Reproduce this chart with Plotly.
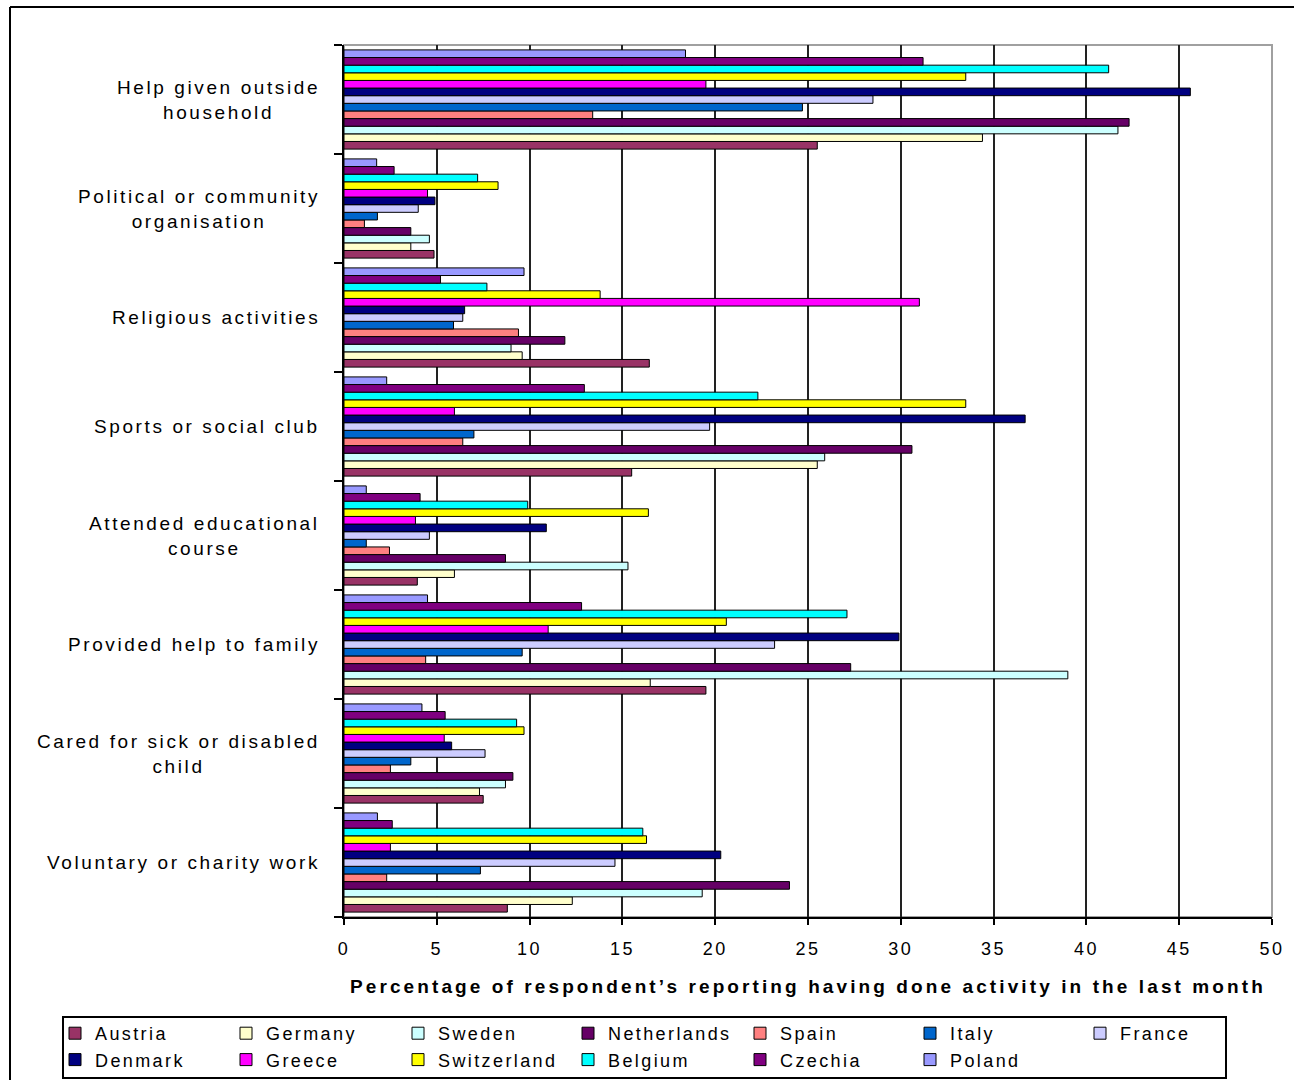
import plotly.graph_objects as go

# Activities, listed top to bottom as they appear on the chart
activities = [
    "Help given outside<br>household",
    "Political or community<br>organisation",
    "Religious activities",
    "Sports or social club",
    "Attended educational<br>course",
    "Provided help to family",
    "Cared for sick or disabled<br>child",
    "Voluntary or charity work",
]

countries = ["Austria", "Germany", "Sweden", "Netherlands", "Spain", "Italy", "France",
             "Denmark", "Greece", "Switzerland", "Belgium", "Czechia", "Poland"]

colors = ["#993366", "#FFFFCC", "#CCFFFF", "#660066", "#FF8080", "#0066CC", "#CCCCFF",
          "#000080", "#FF00FF", "#FFFF00", "#00FFFF", "#800080", "#9999FF"]

# Percentage of respondents per activity (same order as activities)
austria = [25.5, 4.85, 16.45, 15.5, 3.95, 19.5, 7.5, 8.8]
germany = [34.4, 3.6, 9.6, 25.5, 5.95, 16.5, 7.3, 12.3]
sweden = [41.7, 4.6, 9.0, 25.9, 15.3, 39.0, 8.7, 19.3]
netherlands = [42.3, 3.6, 11.9, 30.6, 8.7, 27.3, 9.1, 24.0]
spain = [13.4, 1.1, 9.4, 6.4, 2.45, 4.4, 2.5, 2.3]
italy = [24.7, 1.8, 5.9, 7.0, 1.2, 9.6, 3.6, 7.35]
france = [28.5, 4.0, 6.4, 19.7, 4.6, 23.2, 7.6, 14.6]
denmark = [45.6, 4.9, 6.5, 36.7, 10.9, 29.9, 5.8, 20.3]
greece = [19.5, 4.5, 31.0, 5.95, 3.85, 11.0, 5.4, 2.5]
switzerland = [33.5, 8.3, 13.8, 33.5, 16.4, 20.6, 9.7, 16.3]
belgium = [41.2, 7.2, 7.7, 22.3, 9.9, 27.1, 9.3, 16.1]
czechia = [31.2, 2.7, 5.2, 12.95, 4.1, 12.8, 5.45, 2.6]
poland = [18.4, 1.76, 9.7, 2.3, 1.2, 4.5, 4.2, 1.8]

series = [austria, germany, sweden, netherlands, spain, italy, france,
          denmark, greece, switzerland, belgium, czechia, poland]

x_ticks = [0, 5, 10, 15, 20, 25, 30, 35, 40, 45, 50]
x_title = "Percentage of respondent\u2019s reporting having done activity in the last month"

FONT = "Liberation Sans, Arial, sans-serif"
W, H = 1294, 1080
ML, MR, MT, MB = 344, 22, 45, 163
plot_w = W - ML - MR
plot_h = H - MT - MB

# Legend laid out as 7 columns x 2 rows
LEGEND_COLS = 7
legend_col_x = [55, 226, 398, 568, 740, 910, 1080]   # container pixels
legend_top = 1015


def spaced(text, px):
    return f'<span style="letter-spacing:{px}px">{text}</span>'


def legend_key(i):
    return "legend" if i == 0 else f"legend{i + 1}"


fig = go.Figure()
for j, (name, vals, col) in enumerate(zip(countries, series, colors)):
    fig.add_trace(go.Bar(
        y=activities, x=vals, name=spaced(name, 2.4), orientation="h",
        marker=dict(color=col, line=dict(color="black", width=1)),
        legend=legend_key(j % LEGEND_COLS), legendgroup=name,
    ))

# Category labels, centred per line, right edge just left of the axis
for label in activities:
    ls = 2.6
    styled = "<br>".join(spaced(part, ls) for part in label.split("<br>"))
    fig.add_annotation(
        x=-22 / plot_w, xref="paper", xanchor="right",
        y=label, yref="y", yanchor="middle",
        text=styled, showarrow=False, align="center",
        font=dict(family=FONT, size=19, color="black"),
    )

# Axis title
fig.add_annotation(
    x=0.5, xref="paper", xanchor="center",
    y=-69 / plot_h, yref="paper", yanchor="middle",
    text="<b>" + spaced(x_title, 3.1) + "</b>",
    showarrow=False, font=dict(family=FONT, size=19, color="black"),
)

# Plot area frame (grey)
fig.add_shape(type="rect", xref="paper", yref="paper", x0=0, x1=1, y0=0, y1=1,
              line=dict(color="#A0A0A0", width=2), layer="below")
# Outer chart frame (black, top and left edges)
fig.add_shape(type="line", xref="paper", yref="paper",
              x0=(10 - ML) / plot_w, x1=(W + 5 - ML) / plot_w,
              y0=1 + (MT - 7) / plot_h, y1=1 + (MT - 7) / plot_h,
              line=dict(color="black", width=2))
fig.add_shape(type="line", xref="paper", yref="paper",
              x0=(10 - ML) / plot_w, x1=(10 - ML) / plot_w,
              y0=1 + (MT - 7) / plot_h, y1=-(MB + 5) / plot_h,
              line=dict(color="black", width=2))
# Legend box
fig.add_shape(type="rect", xref="paper", yref="paper",
              x0=(63 - ML) / plot_w, x1=(1226 - ML) / plot_w,
              y0=-(1078 - (H - MB)) / plot_h, y1=-(1017 - (H - MB)) / plot_h,
              line=dict(color="black", width=2))

legends = {}
for i in range(LEGEND_COLS):
    legends[legend_key(i)] = dict(
        orientation="v", traceorder="normal",
        xref="container", yref="container",
        x=legend_col_x[i] / W, xanchor="left",
        y=1 - legend_top / H, yanchor="top",
        bgcolor="rgba(0,0,0,0)", borderwidth=0,
        font=dict(family=FONT, size=18, color="black"),
        itemwidth=30, tracegroupgap=10,
    )

fig.update_layout(
    width=W, height=H,
    margin=dict(l=ML, r=MR, t=MT, b=MB, autoexpand=False),
    paper_bgcolor="white", plot_bgcolor="white",
    barmode="group", bargap=0.09, bargroupgap=0,
    font=dict(family=FONT, size=16, color="black"),
    showlegend=True,
    xaxis=dict(
        range=[0, 50], tickmode="array", tickvals=x_ticks,
        ticktext=[spaced(str(t), 2.5) for t in x_ticks],
        showgrid=True, gridcolor="#222222", gridwidth=2,
        showline=True, linecolor="black", linewidth=2,
        ticks="outside", ticklen=6, tickcolor="black", tickwidth=2,
        ticklabelstandoff=8,
        tickfont=dict(family=FONT, size=18), zeroline=False,
        fixedrange=True,
    ),
    yaxis=dict(
        type="category", categoryorder="array",
        categoryarray=list(reversed(activities)),
        showticklabels=False, showgrid=False,
        showline=True, linecolor="black", linewidth=2,
        ticks="outside", ticklen=8, tickcolor="black", tickwidth=2,
        tickson="boundaries", fixedrange=True,
    ),
    **legends,
)

fig.write_html("out.html")
